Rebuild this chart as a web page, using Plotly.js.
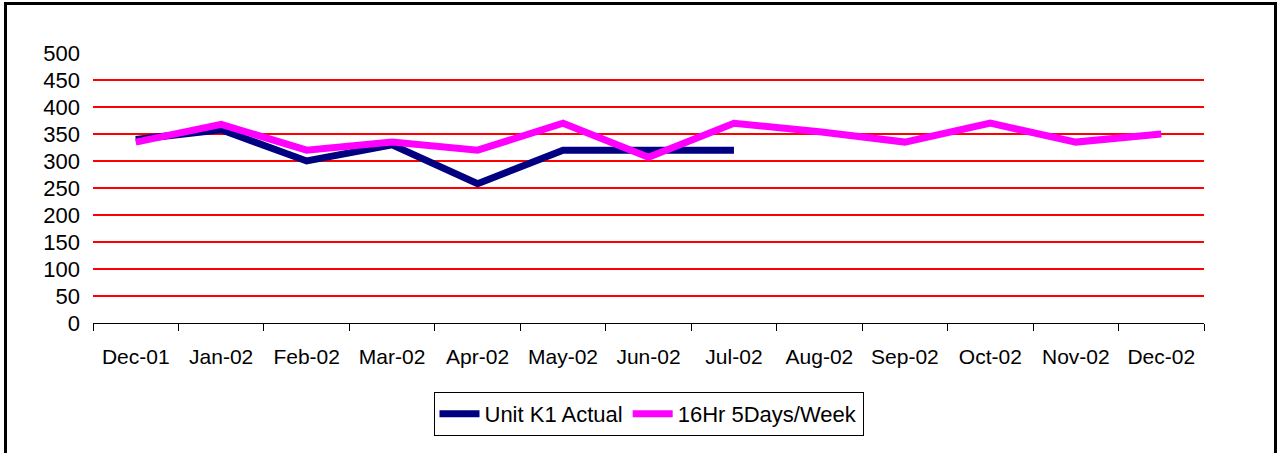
<!DOCTYPE html>
<html>
<head>
<meta charset="utf-8">
<script src="https://cdn.plot.ly/plotly-3.0.1.min.js"></script>
<style>
  html, body { margin: 0; padding: 0; background: #fff; }
  #wrap { position: relative; width: 1277px; height: 453px; overflow: hidden; }
  #chart { position: absolute; left: 0; top: 0; width: 1277px; height: 453px; }
  #frame { position: absolute; left: 4px; top: 2px; width: 1267px; height: 520px;
           border: 3px solid #000; pointer-events: none; }
</style>
</head>
<body>
<div id="wrap">
  <div id="chart"></div>
  <div id="frame"></div>
</div>
<script>
const months = ["Dec-01","Jan-02","Feb-02","Mar-02","Apr-02","May-02","Jun-02","Jul-02","Aug-02","Sep-02","Oct-02","Nov-02","Dec-02"];
const actualMonths = ["Dec-01","Jan-02","Feb-02","Mar-02","Apr-02","May-02","Jun-02","Jul-02"];
const unitK1Actual = [340, 358, 300, 330, 258, 320, 320, 320];
const plan16Hr = [335, 368, 320, 335, 320, 370, 307, 370, 354, 335, 370, 335, 350];
const yTicks = [0, 50, 100, 150, 200, 250, 300, 350, 400, 450, 500];

const traces = [
  { x: actualMonths, y: unitK1Actual, name: "Unit K1 Actual", mode: "lines",
    line: { color: "#000080", width: 7 } },
  { x: months, y: plan16Hr, name: "16Hr 5Days/Week", mode: "lines",
    line: { color: "#FF00FF", width: 7 } }
];

const layout = {
  width: 1277, height: 453,
  margin: { l: 93, r: 73, t: 53, b: 130 },
  paper_bgcolor: "#fff", plot_bgcolor: "#fff",
  font: { family: "Liberation Sans, Arial, sans-serif", size: 21, color: "#000" },
  showlegend: true,
  legend: {
    orientation: "h", x: 0.5, xanchor: "center", y: -0.255, yanchor: "top",
    bordercolor: "#000", borderwidth: 1, bgcolor: "#fff",
    font: { size: 22, color: "#000" }, itemwidth: 40
  },
  xaxis: {
    type: "category", categoryorder: "array", categoryarray: months,
    range: [-0.5, 12.5], tickson: "boundaries", ticks: "outside", ticklen: 7,
    tickcolor: "#000", tickwidth: 1, showline: true, linecolor: "#000", linewidth: 1,
    showgrid: false, zeroline: false, ticklabelstandoff: 15,
    tickfont: { size: 21, color: "#000" }, fixedrange: true
  },
  yaxis: {
    range: [0, 500], tickvals: yTicks, ticktext: yTicks.map(String),
    showgrid: true, gridcolor: "#FF0000", gridwidth: 1.5, zeroline: false,
    showline: false, ticks: "", ticklabelstandoff: 12,
    tickfont: { size: 22, color: "#000" }, fixedrange: true
  }
};

Plotly.newPlot("chart", traces, layout, { staticPlot: true, displayModeBar: false });
</script>
</body>
</html>
